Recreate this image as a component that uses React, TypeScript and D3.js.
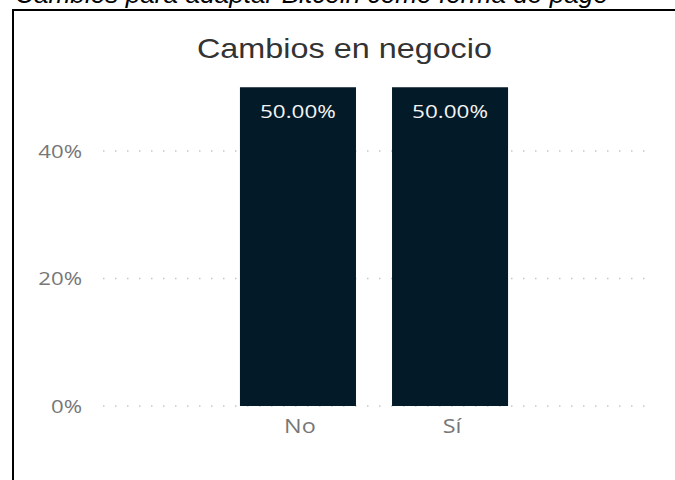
import React from "react";
import * as d3 from "d3";

const categories = ["No", "Sí"];
const values = [0.5, 0.5];
const yTicks = [0, 0.2, 0.4];
const caption = "Cambios para adaptar Bitcoin como forma de pago";
const chartTitle = "Cambios en negocio";

export default function App() {
  const W = 675;
  const H = 480;
  const y = d3.scaleLinear().domain([0, 0.2]).range([406, 278.5]);
  const x = d3
    .scaleBand<string>()
    .domain(categories)
    .range([222, 526])
    .paddingInner(0.237)
    .paddingOuter(0.118);
  const pct = d3.format(".0%");
  const pct2 = d3.format(".2%");
  const gridX0 = 103;
  const gridX1 = 650;
  const font = "'Open Sans', sans-serif";
  const stretch = 1.17;
  return (
    <svg
      width={W}
      height={H}
      style={{ position: "absolute", left: 0, top: 0, background: "#fff" }}
    >
      <text
        x={15}
        y={3}
        fontFamily="'Liberation Sans', Arial, sans-serif"
        fontStyle="italic"
        fontSize={25}
        fill="#000"
        textLength={593}
        lengthAdjust="spacingAndGlyphs"
      >
        {caption}
      </text>
      <line x1={12} x2={W} y1={10} y2={10} stroke="#000" strokeWidth={2} />
      <line x1={13} x2={13} y1={9} y2={H} stroke="#000" strokeWidth={2} />
      <text
        x={197}
        y={58}
        fontFamily="'Liberation Sans', Arial, sans-serif"
        fontSize={28}
        fill="#333"
        textLength={295}
        lengthAdjust="spacingAndGlyphs"
      >
        {chartTitle}
      </text>
      {yTicks.map((t) => (
        <g key={t}>
          <line
            x1={gridX0}
            x2={gridX1}
            y1={y(t)}
            y2={y(t)}
            stroke="#c8c8c8"
            strokeWidth={1.5}
            strokeDasharray="1.5 10.5"
          />
          <g transform={`translate(82,${y(t) + 6.5}) scale(${stretch},1)`}>
            <text
              x={0}
              y={0}
              textAnchor="end"
              fontFamily={font}
              fontSize={19}
              fill="#777"
            >
              {pct(t)}
            </text>
          </g>
        </g>
      ))}
      {categories.map((c, i) => {
        const cx = (x(c) as number) + x.bandwidth() / 2;
        return (
          <g key={c}>
            <rect
              x={x(c)}
              y={y(values[i])}
              width={x.bandwidth()}
              height={y(0) - y(values[i])}
              fill="#031a28"
            />
            <g transform={`translate(${cx},${y(values[i]) + 31}) scale(1.25,1)`}>
              <text
                x={0}
                y={0}
                textAnchor="middle"
                fontFamily={font}
                fontSize={18}
                fill="#f4f4f4"
              >
                {pct2(values[i])}
              </text>
            </g>
            <g transform={`translate(${cx + 2},433) scale(${stretch},1)`}>
              <text
                x={0}
                y={0}
                textAnchor="middle"
                fontFamily={font}
                fontSize={20}
                fill="#777"
              >
                {c}
              </text>
            </g>
          </g>
        );
      })}
    </svg>
  );
}
